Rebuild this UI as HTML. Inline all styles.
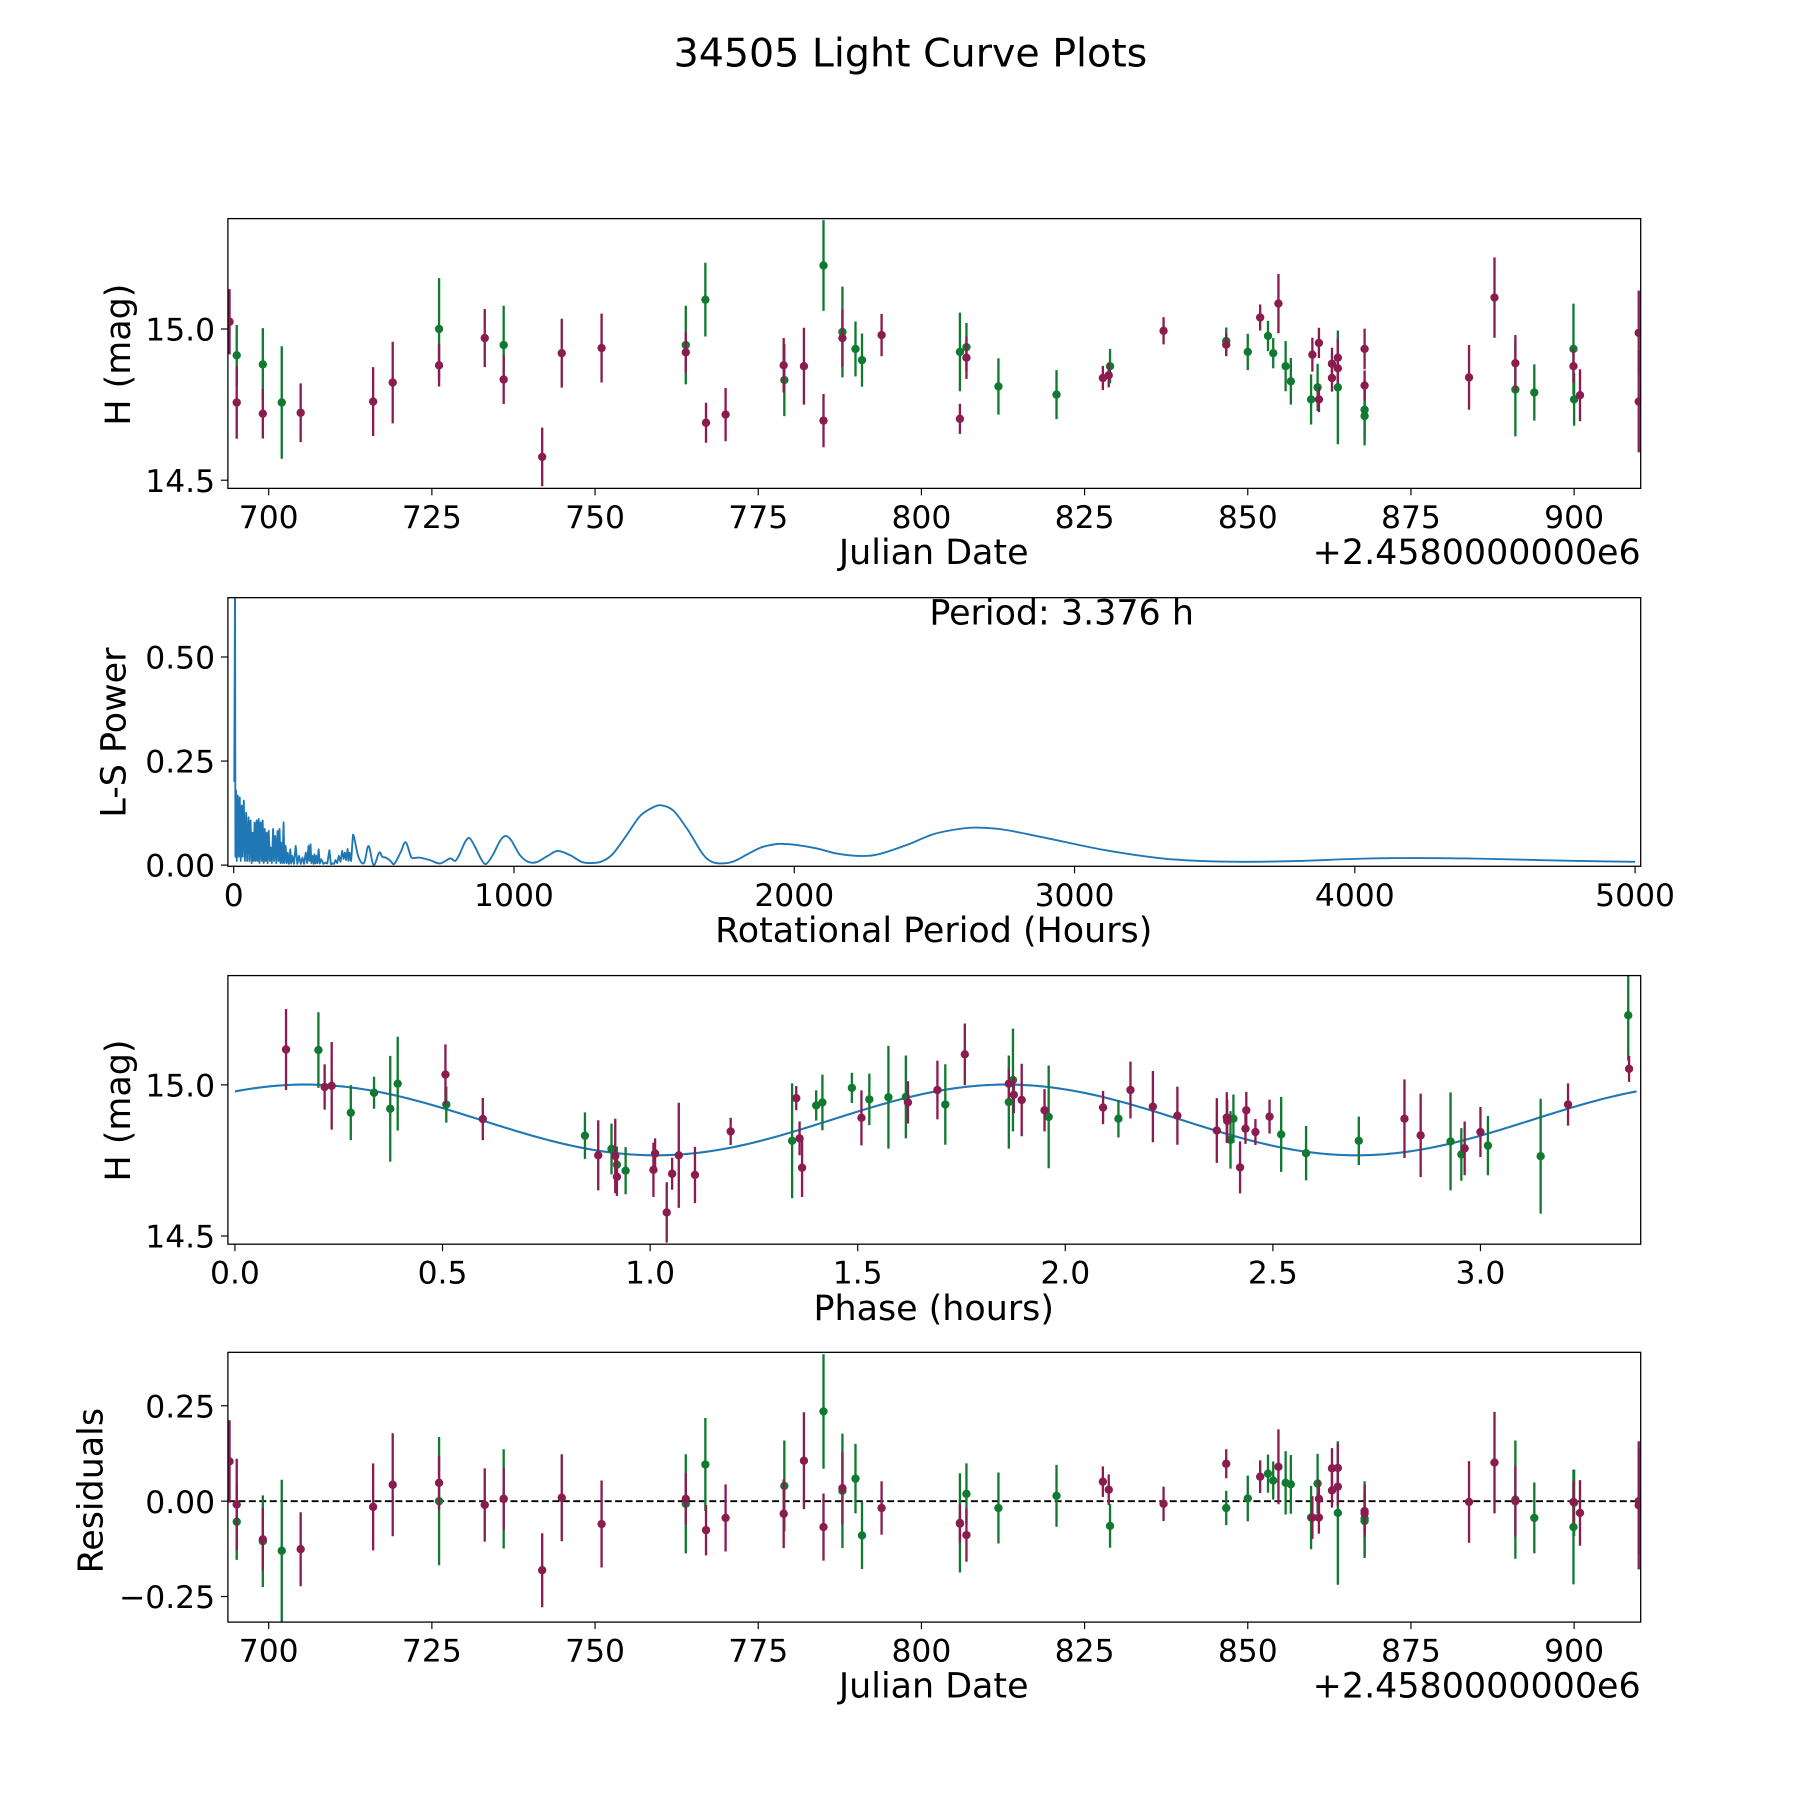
<!DOCTYPE html>
<html><head><meta charset="utf-8"><title>34505 Light Curve Plots</title>
<style>html,body{margin:0;padding:0;background:#fff;}svg{display:block;font-family:"DejaVu Sans","Liberation Sans",sans-serif;}</style>
</head><body>
<svg id="fig" xmlns="http://www.w3.org/2000/svg" width="1800" height="1800" viewBox="0 0 1548 1548">
<rect x="0" y="0" width="1548" height="1548" fill="#fff"/>
<text x="783" y="57" font-size="34" text-anchor="middle">34505 Light Curve Plots</text>
</svg>
<script>
// ---- Panel 1 / 4 data (Julian Date offsets, magnitudes, errors, residuals) ----
const purpleJD = [694.0,695.1,699.1,704.9,716.0,719.0,726.1,733.1,736.0,741.9,744.9,751.0,763.9,767.0,770.0,778.9,782.0,785.0,787.9,793.9,805.9,806.9,827.8,828.7,837.1,846.7,851.9,854.7,859.9,860.9,860.9,862.9,862.9,863.8,863.8,867.9,867.9,883.9,887.8,891.0,899.9,900.9,909.9,909.9];
const purpleMag = [15.024,14.757,14.72,14.723,14.76,14.823,14.88,14.97,14.833,14.577,14.92,14.937,14.923,14.69,14.717,14.88,14.877,14.697,14.97,14.98,14.703,14.905,14.838,14.847,14.994,14.948,15.038,15.084,14.915,14.954,14.767,14.885,14.838,14.905,14.87,14.934,14.813,14.84,15.104,14.887,14.877,14.781,14.987,14.76];
const purpleErr = [0.108,0.12,0.082,0.097,0.114,0.135,0.07,0.096,0.081,0.097,0.114,0.114,0.068,0.066,0.088,0.09,0.127,0.088,0.095,0.07,0.05,0.07,0.04,0.04,0.045,0.038,0.043,0.098,0.056,0.05,0.042,0.053,0.045,0.064,0.05,0.067,0.05,0.107,0.133,0.093,0.056,0.086,0.14,0.168];
const purpleRes = [0.104,-0.009,-0.10,-0.126,-0.015,0.043,0.048,-0.01,0.006,-0.181,0.009,-0.06,0.006,-0.076,-0.044,-0.033,0.106,-0.068,0.034,-0.018,-0.059,-0.089,0.051,0.03,-0.007,0.098,0.064,0.09,-0.043,0.006,-0.043,0.086,0.028,0.087,0.038,-0.026,-0.032,-0.002,0.101,0,-0.002,-0.031,0,-0.011];
const greenJD = [695.1,699.1,702.0,726.1,736.0,763.9,766.9,779.0,785.0,787.9,789.9,790.9,805.9,806.9,811.8,820.7,828.9,846.7,850.0,853.1,853.9,855.8,856.6,859.7,860.7,863.8,867.9,867.9,891.0,893.9,899.9,900.0];
const greenMag = [14.913,14.883,14.757,15.0,14.947,14.947,15.097,14.831,15.21,14.99,14.934,14.897,14.924,14.94,14.81,14.783,14.877,14.96,14.924,14.977,14.92,14.877,14.827,14.767,14.807,14.807,14.733,14.712,14.8,14.79,14.934,14.767];
const greenErr = [0.1,0.12,0.186,0.168,0.13,0.13,0.122,0.119,0.15,0.15,0.091,0.088,0.13,0.08,0.093,0.081,0.057,0.045,0.06,0.05,0.05,0.083,0.077,0.083,0.078,0.188,0.097,0.097,0.155,0.093,0.15,0.087];
const greenRes = [-0.054,-0.105,-0.13,0,0.006,-0.007,0.096,0.04,0.235,0.027,0.059,-0.09,-0.057,0.019,-0.018,0.014,-0.065,-0.018,0.007,0.072,0.054,0.048,0.044,-0.043,0.046,-0.031,-0.045,-0.052,0.004,-0.044,-0.068,-0.004];
// ---- Panel 3 data (phase-folded) ----
const purplePhase = [0.123,0.216,0.233,0.507,0.597,0.875,0.916,0.920,1.008,1.012,1.040,1.053,1.069,1.108,1.194,1.352,1.360,1.366,1.509,1.621,1.692,1.758,1.864,1.876,1.895,1.950,2.091,2.157,2.211,2.270,2.365,2.389,2.390,2.421,2.434,2.436,2.458,2.492,2.817,2.856,2.962,3.000,3.211,3.358];
const purplePhaseMag = [15.117,14.993,14.997,15.034,14.887,14.767,14.765,14.696,14.719,14.773,14.578,14.706,14.767,14.702,14.846,14.956,14.823,14.726,14.891,14.942,14.983,15.101,15.004,14.967,14.95,14.916,14.925,14.983,14.928,14.898,14.849,14.892,14.881,14.727,14.855,14.916,14.844,14.895,14.888,14.833,14.79,14.844,14.935,15.053];
const purplePhaseErr = [0.134,0.075,0.145,0.1,0.07,0.116,0.123,0.063,0.09,0.05,0.1,0.053,0.174,0.093,0.045,0.04,0.056,0.097,0.091,0.07,0.097,0.102,0.05,0.06,0.12,0.07,0.055,0.094,0.118,0.096,0.107,0.084,0.07,0.086,0.05,0.061,0.043,0.056,0.13,0.138,0.089,0.083,0.07,0.043];
const greenPhase = [0.201,0.279,0.335,0.374,0.392,0.509,0.843,0.907,0.920,0.941,1.342,1.400,1.415,1.486,1.528,1.574,1.616,1.711,1.864,1.874,1.960,2.128,2.398,2.405,2.520,2.580,2.707,2.928,2.954,3.018,3.145,3.356];
const greenPhaseMag = [15.115,14.908,14.974,14.921,15.004,14.935,14.832,14.788,14.736,14.716,14.815,14.932,14.942,14.99,14.952,14.959,14.96,14.935,14.943,15.016,14.894,14.888,14.818,14.888,14.836,14.774,14.815,14.813,14.77,14.799,14.764,15.23];
const greenPhaseErr = [0.125,0.091,0.053,0.175,0.155,0.06,0.077,0.084,0.06,0.078,0.19,0.05,0.092,0.05,0.085,0.17,0.137,0.133,0.154,0.17,0.17,0.062,0.095,0.08,0.124,0.09,0.08,0.162,0.087,0.098,0.19,0.15];
// model sinusoid parameters: mean, amplitude, phase of peak, period (h)
const modelMean = 14.884, modelAmp = 0.117, modelPeak = 0.17, modelPeriod = 3.376;
// ---- Panel 2: Lomb-Scargle periodogram ----
const lsPeriod = [2,4.8,6,8.4,11,14.4,18,21.6,25,28.8,32,36.1,40,44.5,48,52.9,56,60.1,64,67.3,71,74.5,78,81.7,85,88.9,92,96.2,100,103.4,107,110.6,114,117.8,121,125.0,129,132.2,136,140.6,144,147.8,152,156.3,160,163.5,167,170.7,174,177.9,181,185.1,189,192.3,197,201.9,205,209.1,215,221.2,227,233.2,239,245.2,251,257.2,262,266.8,270,274.1,277,281.3,285,288.5,292,295.7,299,302.9,307,312.5,320,327.0,334,341.4,347,353.4,358,363.0,369,375.0,381,387.0,392,396.7,401,406.3,410,413.5,419,425.5,445,465,481,499,519,530,543,560,573,595,613,630,637,663,700,736,772,790,805,825,841,860,885,901,925,950,970,990,1020,1050,1080,1120,1156,1200,1240,1270,1310,1350,1400,1450,1500,1530,1570,1620,1670,1700,1733,1780,1830,1880,1930,1960,2000,2080,2150,2230,2300,2400,2500,2600,2660,2750,2900,3100,3300,3450,3600,3800,4000,4200,4400,4600,4800,5000];
const lsPower = [0.2,0.70,0.02,0.179,0.01,0.167,0.02,0.163,0.01,0.143,0.02,0.155,0.01,0.126,0.01,0.115,0.01,0.107,0.005,0.078,0.01,0.102,0.01,0.107,0.01,0.111,0.005,0.103,0.01,0.107,0.005,0.087,0.01,0.078,0.005,0.082,0.01,0.042,0.005,0.087,0.01,0.07,0.005,0.082,0.01,0.087,0.005,0.054,0.005,0.103,0.005,0.046,0.005,0.03,0.003,0.038,0.004,0.022,0.003,0.046,0.003,0.022,0.003,0.018,0.003,0.03,0.005,0.046,0.01,0.05,0.005,0.022,0.003,0.026,0.004,0.022,0.005,0.038,0.004,0.014,0.003,0.006,0.004,0.036,0.002,0.004,0.003,0.012,0.005,0.022,0.008,0.034,0.015,0.030,0.012,0.039,0.01,0.03,0.01,0.073,0.02,0.005,0.046,0.0,0.03,0.02,0.018,0.01,0.003,0.03,0.055,0.025,0.017,0.018,0.012,0.004,0.016,0.01,0.025,0.055,0.065,0.045,0.012,0.003,0.025,0.058,0.07,0.06,0.025,0.008,0.007,0.022,0.034,0.024,0.008,0.005,0.008,0.025,0.07,0.118,0.14,0.143,0.13,0.085,0.03,0.01,0.004,0.008,0.025,0.042,0.05,0.051,0.049,0.04,0.028,0.022,0.026,0.048,0.075,0.088,0.09,0.085,0.065,0.037,0.017,0.01,0.008,0.01,0.015,0.017,0.016,0.013,0.01,0.008];
// ---- Tick labels ----
const jdTicks = [700,725,750,775,800,825,850,875,900];
const magTicks = [14.5,15.0];
const magTickLabels = ["14.5","15.0"];
const powTicks = [0,0.25,0.5];
const powTickLabels = ["0.00","0.25","0.50"];
const perTicks = [0,1000,2000,3000,4000,5000];
const phaseTicks = [0,0.5,1.0,1.5,2.0,2.5,3.0];
const phaseTickLabels = ["0.0","0.5","1.0","1.5","2.0","2.5","3.0"];
const resTicks = [-0.25,0,0.25];
const resTickLabels = ["\u22120.25","0.00","0.25"];

const NS = "http://www.w3.org/2000/svg";
const svg = document.getElementById('fig');
const PURPLE = "#8a1c50", GREEN = "#117a30", BLUE = "#1f77b4";
const TICK_FS = 27, LABEL_FS = 30;
function mk(tag, attrs, parent){ const e=document.createElementNS(NS,tag); for(const k in attrs) e.setAttribute(k,attrs[k]); (parent||svg).appendChild(e); return e; }
function scale(d0,d1,r0,r1){ return v => r0 + (v-d0)*(r1-r0)/(d1-d0); }

function makePanel(id, x0,x1,y0,y1, xd, yd){
  const g = mk('g',{});
  
  
  const cp = mk('clipPath',{id:id+'-clip'},g);
  mk('rect',{x:x0,y:y0,width:x1-x0,height:y1-y0},cp);
  const plot = mk('g',{'clip-path':'url(#'+id+'-clip)'},g);
  
  
  return {g, plot, x0,x1,y0,y1, sx: scale(xd[0],xd[1],x0,x1), sy: scale(yd[0],yd[1],y1,y0)};
}
function frame(P){
  const r = mk('rect',{x:P.x0,y:P.y0,width:P.x1-P.x0,height:P.y1-P.y0,fill:'none',stroke:'#000','stroke-width':1.1},P.g);
  
  
}
function xTicks(P, vals, labels, name){
  vals.forEach((v,i)=>{
    const x=P.sx(v);
    mk('line',{x1:x,x2:x,y1:P.y1,y2:P.y1+6,stroke:'#000','stroke-width':1},P.g);
    const t=mk('text',{x:x,y:P.y1+34,'font-size':TICK_FS,'text-anchor':'middle'},P.g);
    t.textContent = labels ? labels[i] : String(v);
    
    
  });
}
function yTicks(P, vals, labels, name){
  vals.forEach((v,i)=>{
    const y=P.sy(v);
    mk('line',{x1:P.x0-6,x2:P.x0,y1:y,y2:y,stroke:'#000','stroke-width':1},P.g);
    const t=mk('text',{x:P.x0-11,y:y+10,'font-size':TICK_FS,'text-anchor':'end'},P.g);
    t.textContent = labels[i];
    
    
  });
}
function label(P, txt, x, y, rot, name){
  const t=mk('text',{x:x,y:y,'font-size':LABEL_FS,'text-anchor':'middle'},P.g);
  if(rot) t.setAttribute('transform','rotate(-90 '+x+' '+y+')');
  t.textContent=txt;
  
  
}
function errPoints(P, xs, ys, es, color, name){
  const g = mk('g',{},P.plot);
  
  
  xs.forEach((xv,i)=>{
    const x=P.sx(xv);
    const l = mk('line',{x1:x,x2:x,y1:P.sy(ys[i]+es[i]),y2:P.sy(ys[i]-es[i]),stroke:color,'stroke-width':2},g);
    
    
    const c = mk('circle',{cx:x,cy:P.sy(ys[i]),r:3.6,fill:color},g);
    
    
  });
}

// Panel 1: light curve vs Julian Date
const P1 = makePanel('light-curve',196,1411,188,420,[693.75,910.2],[14.473,15.365]);
errPoints(P1, greenJD, greenMag, greenErr, GREEN, 'green-series');
errPoints(P1, purpleJD, purpleMag, purpleErr, PURPLE, 'purple-series');
frame(P1); xTicks(P1, jdTicks, null, 'x-axis'); yTicks(P1, magTicks, magTickLabels, 'y-axis');
label(P1,'Julian Date',803,485,false,'x-axis-title');
label(P1,'H (mag)',112,305,true,'y-axis-title');
(function(){const t=mk('text',{x:1411,y:485,'font-size':LABEL_FS,'text-anchor':'end'},P1.g);t.textContent='+2.4580000000e6';

})();

// Panel 2: periodogram
const P2 = makePanel('periodogram',196,1411,514,745,[-20.7,5020],[-0.0028,0.6425]);
(function(){
  const pts = lsPeriod.map((p,i)=>[P2.sx(p),P2.sy(lsPower[i])]);
  let d = 'M'+pts[0][0].toFixed(2)+','+pts[0][1].toFixed(2);
  for(let i=1;i<pts.length;i++){
    if(lsPeriod[i] <= 426){ d += ' L'+pts[i][0].toFixed(2)+','+pts[i][1].toFixed(2); continue; }
    const p0=pts[Math.max(0,i-2)], p1=pts[i-1], p2=pts[i], p3=pts[Math.min(pts.length-1,i+1)];
    const c1=[p1[0]+(p2[0]-p0[0])/6, p1[1]+(p2[1]-p0[1])/6];
    const c2=[p2[0]-(p3[0]-p1[0])/6, p2[1]-(p3[1]-p1[1])/6];
    d += ' C'+c1[0].toFixed(2)+','+c1[1].toFixed(2)+' '+c2[0].toFixed(2)+','+c2[1].toFixed(2)+' '+p2[0].toFixed(2)+','+p2[1].toFixed(2);
  }
  const path = mk('path',{d:d,fill:'none',stroke:BLUE,'stroke-width':1.6,'stroke-linejoin':'round'},P2.plot);
  
  
})();
frame(P2); xTicks(P2, perTicks, null, 'x-axis'); yTicks(P2, powTicks, powTickLabels, 'y-axis');
label(P2,'Rotational Period (Hours)',803,810,false,'x-axis-title');
label(P2,'L-S Power',108,630,true,'y-axis-title');
(function(){const t=mk('text',{x:913,y:537,'font-size':LABEL_FS,'text-anchor':'middle'},P2.g);t.textContent='Period: 3.376 h';

})();

// Panel 3: phase-folded
const P3 = makePanel('phase-fold',196,1411,839,1070,[-0.017,3.386],[14.473,15.3615]);
(function(){
  const n=300, pts=[];
  for(let i=0;i<=n;i++){const ph=modelPeriod*i/n; const m=modelMean+modelAmp*Math.cos(4*Math.PI*(ph-modelPeak)/modelPeriod); pts.push(P3.sx(ph).toFixed(2)+','+P3.sy(m).toFixed(2));}
  const path = mk('path',{d:'M'+pts.join(' L'),fill:'none',stroke:BLUE,'stroke-width':1.8},P3.plot);
  
  
})();
errPoints(P3, greenPhase, greenPhaseMag, greenPhaseErr, GREEN, 'green-series');
errPoints(P3, purplePhase, purplePhaseMag, purplePhaseErr, PURPLE, 'purple-series');
frame(P3); xTicks(P3, phaseTicks, phaseTickLabels, 'x-axis'); yTicks(P3, magTicks, magTickLabels, 'y-axis');
label(P3,'Phase (hours)',803,1135,false,'x-axis-title');
label(P3,'H (mag)',112,955,true,'y-axis-title');

// Panel 4: residuals
const P4 = makePanel('residuals',196,1411,1163,1395,[693.75,910.2],[-0.317,0.39]);
(function(){const l=mk('line',{x1:196,x2:1411,y1:P4.sy(0),y2:P4.sy(0),stroke:'#000','stroke-width':1.6,'stroke-dasharray':'6,3'},P4.plot);

})();
errPoints(P4, greenJD, greenRes, greenErr, GREEN, 'green-series');
errPoints(P4, purpleJD, purpleRes, purpleErr, PURPLE, 'purple-series');
frame(P4); xTicks(P4, jdTicks, null, 'x-axis'); yTicks(P4, resTicks, resTickLabels, 'y-axis');
label(P4,'Julian Date',803,1460,false,'x-axis-title');
label(P4,'Residuals',88,1282,true,'y-axis-title');
(function(){const t=mk('text',{x:1411,y:1460,'font-size':LABEL_FS,'text-anchor':'end'},P4.g);t.textContent='+2.4580000000e6';

})();
</script>
</body></html>
